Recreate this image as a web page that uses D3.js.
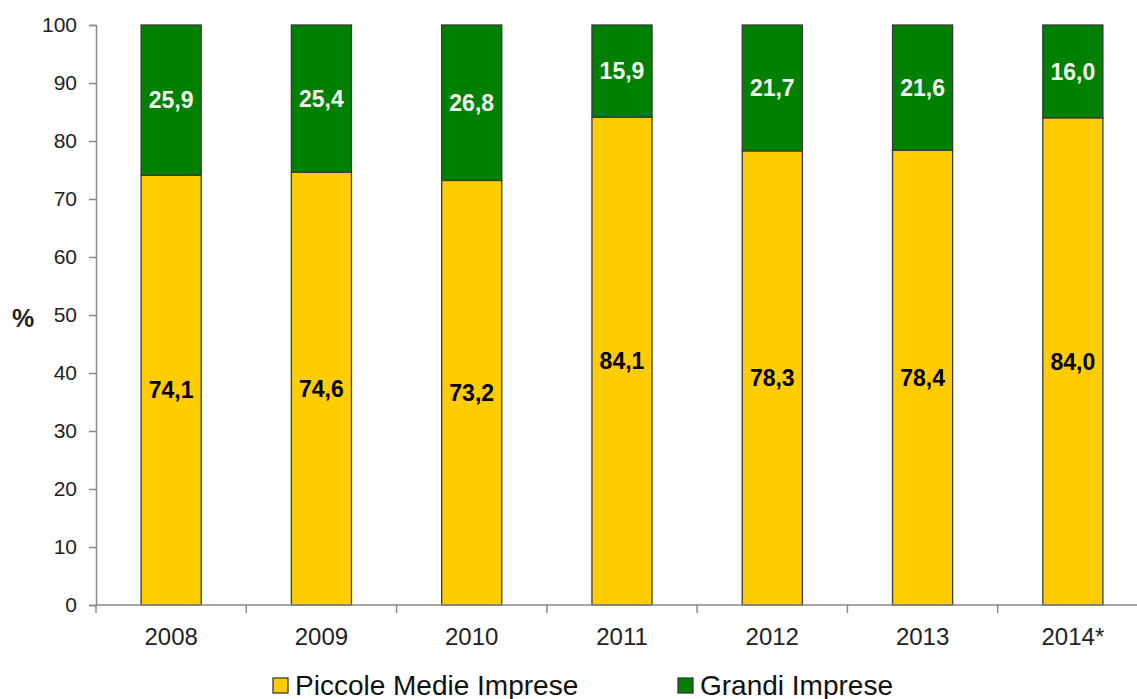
<!DOCTYPE html>
<html>
<head>
<meta charset="utf-8">
<script src="https://cdn.jsdelivr.net/npm/d3@7"></script>
<style>
  html, body { margin: 0; padding: 0; background: #fff; }
  svg { display: block; }
  text { font-family: "Liberation Sans", Arial, sans-serif; }
</style>
</head>
<body>
<script>
const categories = ["2008", "2009", "2010", "2011", "2012", "2013", "2014*"];
const pmiValues = [74.1, 74.6, 73.2, 84.1, 78.3, 78.4, 84.0];
const grandiValues = [25.9, 25.4, 26.8, 15.9, 21.7, 21.6, 16.0];
const seriesNames = ["Piccole Medie Imprese", "Grandi Imprese"];
const yTicks = [0, 10, 20, 30, 40, 50, 60, 70, 80, 90, 100];

const W = 1137, H = 699;
const svg = d3.select("body").append("svg").attr("width", W).attr("height", H);

const x = d3.scaleBand().domain(categories).range([96, 1148]).paddingInner(0.6).paddingOuter(0.3);
const y = d3.scaleLinear().domain([0, 100]).range([605, 25]);

const colors = ["#FFCC00", "#008000"];
const fmt = v => v.toFixed(1).replace(".", ",");

const rows = categories.map((c, i) => ({ cat: c, pmi: pmiValues[i], grandi: grandiValues[i] }));
const stack = d3.stack().keys(["pmi", "grandi"])(rows);

// bars
stack.forEach((layer, li) => {
  svg.append("g").selectAll("rect").data(layer).join("rect")
    .attr("x", d => x(d.data.cat))
    .attr("y", d => y(d[1]))
    .attr("width", x.bandwidth())
    .attr("height", d => y(d[0]) - y(d[1]))
    .attr("fill", colors[li])
    .attr("stroke", "#3a3a3a")
    .attr("stroke-width", 1.3);
});

// value labels
stack.forEach((layer, li) => {
  svg.append("g").selectAll("text").data(layer).join("text")
    .attr("x", d => x(d.data.cat) + x.bandwidth() / 2)
    .attr("y", d => y((d[0] + d[1]) / 2))
    .attr("dy", "0.36em")
    .attr("text-anchor", "middle")
    .attr("font-size", 23)
    .attr("font-weight", "bold")
    .attr("fill", li === 0 ? "#000" : "#f4f8f0")
    .text(d => fmt(d[1] - d[0]));
});

// y axis
const yAxis = svg.append("g").attr("transform", "translate(96,0)")
  .call(d3.axisLeft(y).tickValues(yTicks).tickSize(7).tickPadding(12));
yAxis.select(".domain").attr("stroke", "#8a8a8a").attr("stroke-width", 1.5);
yAxis.selectAll(".tick line").attr("stroke", "#8a8a8a").attr("stroke-width", 1.5);
yAxis.selectAll(".tick text").attr("font-size", 21).attr("fill", "#222")
  .attr("font-family", "Liberation Sans, Arial, sans-serif");

// x axis line
svg.append("line").attr("x1", 96).attr("x2", W).attr("y1", 605).attr("y2", 605)
  .attr("stroke", "#8a8a8a").attr("stroke-width", 1.5);
// x ticks at band boundaries
const step = x.step();
const boundaries = categories.map((c, i) => x(c) - x.paddingOuter() * step + 0 * i);
const bounds = categories.map((c) => x(c) + x.bandwidth() / 2 - step / 2);
svg.append("g").selectAll("line").data(bounds).join("line")
  .attr("x1", d => d).attr("x2", d => d)
  .attr("y1", 605).attr("y2", 613)
  .attr("stroke", "#8a8a8a").attr("stroke-width", 1.5);
// x labels
svg.append("g").selectAll("text").data(categories).join("text")
  .attr("x", d => x(d) + x.bandwidth() / 2)
  .attr("y", 645)
  .attr("text-anchor", "middle")
  .attr("font-size", 24)
  .attr("fill", "#222")
  .text(d => d);

// y title
svg.append("text").attr("x", 23).attr("y", 318).attr("dy", "0.36em")
  .attr("text-anchor", "middle").attr("font-size", 25).attr("font-weight", "bold")
  .attr("fill", "#222").text("%");

// legend
const legendX = [273, 678];
const leg = svg.append("g").selectAll("g").data(seriesNames).join("g")
  .attr("transform", (d, i) => `translate(${legendX[i]},678)`);
leg.append("rect").attr("width", 15).attr("height", 15)
  .attr("fill", (d, i) => colors[i]).attr("stroke", "#3a3a3a").attr("stroke-width", 1.3);
leg.append("text").attr("x", 22).attr("y", 16.5).attr("font-size", 28).attr("fill", "#111")
  .text(d => d);
</script>
</body>
</html>
